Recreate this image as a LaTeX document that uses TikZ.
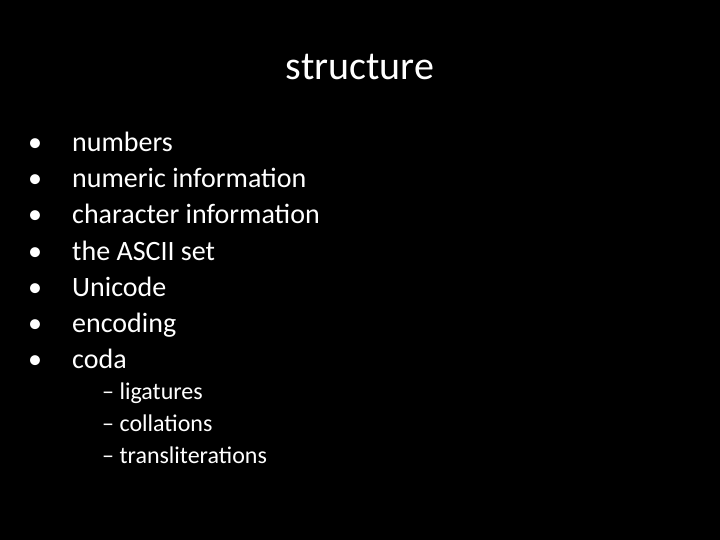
\documentclass[tikz,border=0pt]{standalone}
\usepackage{fontspec}
\setmainfont{Carlito}
\begin{document}
\begin{tikzpicture}[x=1pt,y=-1pt,
  txt/.style={text=white,inner sep=0pt,anchor=base west,font=\fontsize{28}{30}\selectfont},
  sub/.style={text=white,inner sep=0pt,anchor=base west,font=\fontsize{24}{26}\selectfont}]
\fill[black] (0,0) rectangle (720,540);
\useasboundingbox (0,0) rectangle (720,540);
\node[text=white,inner sep=0pt,anchor=base,font=\fontsize{40}{44}\selectfont] (title) at (360,80) {structure};
\foreach \t [count=\i] in {numbers,numeric information,character information,the ASCII set,Unicode,encoding,coda}{
  \node[txt] (b\i) at (28,{116+36*\i}) {•};
  \node[txt] (t\i) at (72,{116+36*\i}) {\t};
}
\foreach \t [count=\i] in {ligatures,collations,transliterations}{
  \node[sub] (s\i) at (102,{367+32*\i}) {– \t};
}
\end{tikzpicture}
\end{document}
